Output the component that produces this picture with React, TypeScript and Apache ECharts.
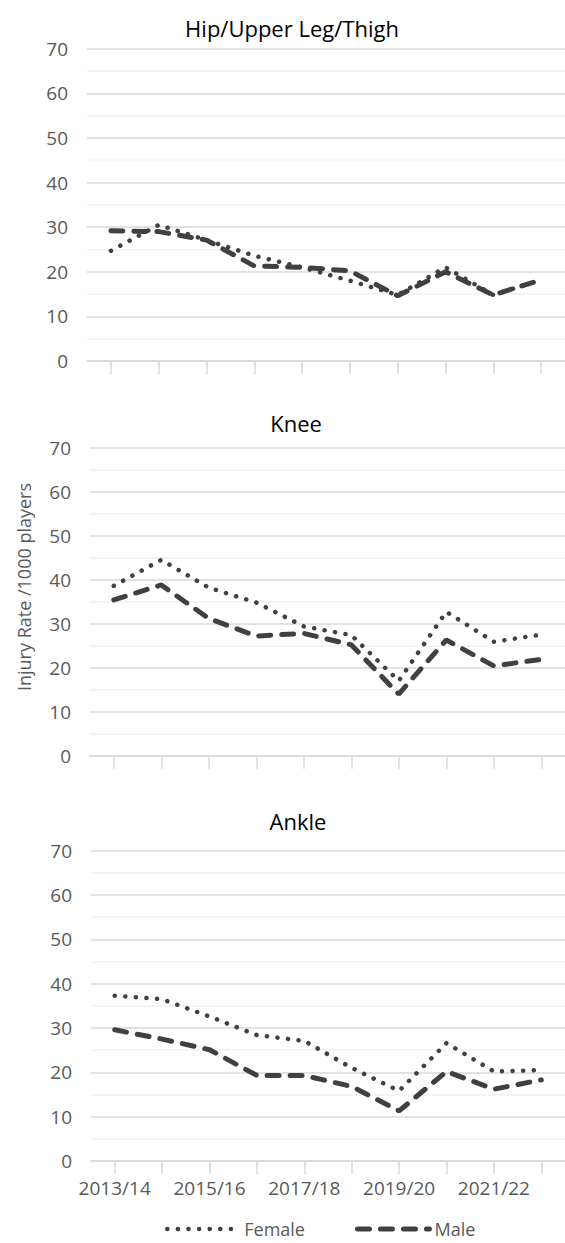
import React, { useEffect, useRef } from "react";
import * as echarts from "echarts";

const categories = ["2013/14", "2014/15", "2015/16", "2016/17", "2017/18", "2018/19", "2019/20", "2020/21", "2021/22", "2022/23"];
const panelTitles = ["Hip/Upper Leg/Thigh", "Knee", "Ankle"];
const seriesNames = ["Female", "Male"];

const hipFemale = [24.7, 30.5, 27.1, 23.6, 21.0, 18.0, 14.8, 21.0, 14.8, 18.2];
const hipMale = [29.2, 29.0, 27.1, 21.3, 21.0, 20.2, 14.6, 20.0, 14.8, 18.2];
const kneeFemale = [38.6, 44.5, 38.2, 34.8, 29.4, 27.4, 17.0, 32.7, 25.9, 27.5];
const kneeMale = [35.4, 38.8, 31.2, 27.2, 27.8, 25.2, 14.0, 26.3, 20.4, 21.9];
const ankleFemale = [37.3, 36.5, 32.6, 28.4, 27.1, 21.0, 15.8, 26.6, 20.2, 20.5];
const ankleMale = [29.6, 27.5, 25.1, 19.3, 19.3, 16.8, 11.3, 20.2, 16.2, 18.3];

const yMin = 0;
const yMax = 70;
const yInterval = 10;
const yAxisTitle = "Injury Rate /1000 players";

const FONT = "'Open Sans', sans-serif";
const LINE_COLOR = "#404040";
const FEMALE_STYLE = { color: LINE_COLOR, width: 4.5, type: [0.1, 10.5], cap: "round" };
const MALE_STYLE = { color: LINE_COLOR, width: 5, type: [12, 11], cap: "round" };

export default function App() {
  const ref = useRef<HTMLDivElement>(null);

  useEffect(() => {
    if (!ref.current) return;
    const chart = echarts.init(ref.current, null, { renderer: "svg" });

    const grids = [
      { left: 87, right: 0, top: 48.7, height: 312.3 },
      { left: 90, right: 0, top: 447.7, height: 308 },
      { left: 91, right: -2, top: 850.7, height: 310.3 },
    ];
    const titleCenters = [
      { x: 292, y: 28 },
      { x: 296, y: 423 },
      { x: 298, y: 821 },
    ];
    const data = [
      [hipFemale, hipMale],
      [kneeFemale, kneeMale],
      [ankleFemale, ankleMale],
    ];

    const xAxes = grids.map((_, i) => ({
      type: "category",
      gridIndex: i,
      data: categories,
      boundaryGap: true,
      axisLine: { show: true, lineStyle: { color: "#d9d9d9", width: 1.5 } },
      axisTick: { show: true, alignWithLabel: true, interval: 0, length: 13, lineStyle: { color: "#d9d9d9", width: 1.5 } },
      axisLabel: {
        show: i === 2,
        interval: 1,
        margin: 17,
        color: "#595959",
        fontSize: 19,
        fontFamily: FONT,
      },
      splitLine: { show: false },
    }));

    const yAxes = grids.map((_, i) => ({
      type: "value",
      gridIndex: i,
      min: yMin,
      max: yMax,
      interval: yInterval,
      axisLine: { show: false },
      axisTick: { show: false },
      axisLabel: { color: "#595959", fontSize: 19, fontFamily: FONT, margin: 19 },
      splitLine: { show: true, lineStyle: { color: "#d9d9d9", width: 1.5 } },
      minorTick: { show: false, splitNumber: 2 },
      minorSplitLine: { show: true, lineStyle: { color: "#f0f0f0", width: 1.5 } },
    }));

    const series: any[] = [];
    data.forEach((pair, i) => {
      series.push({
        name: seriesNames[0],
        type: "line",
        xAxisIndex: i,
        yAxisIndex: i,
        data: pair[0],
        symbol: "none",
        lineStyle: FEMALE_STYLE,
        itemStyle: { color: LINE_COLOR },
      });
      series.push({
        name: seriesNames[1],
        type: "line",
        xAxisIndex: i,
        yAxisIndex: i,
        data: pair[1],
        symbol: "none",
        lineStyle: MALE_STYLE,
        itemStyle: { color: LINE_COLOR },
      });
    });

    const graphics: any[] = panelTitles.map((t, i) => ({
      type: "text",
      x: titleCenters[i].x,
      y: titleCenters[i].y,
      style: {
        text: t,
        fill: "#000000",
        font: `22px ${FONT}`,
        textAlign: "center",
        textVerticalAlign: "middle",
      },
    }));
    graphics.push({
      type: "text",
      x: 24,
      y: 587,
      rotation: Math.PI / 2,
      style: {
        text: yAxisTitle,
        fill: "#595959",
        font: `18px ${FONT}`,
        textAlign: "center",
        textVerticalAlign: "middle",
      },
    });

    chart.setOption({
      animation: false,
      backgroundColor: "#ffffff",
      grid: grids,
      xAxis: xAxes,
      yAxis: yAxes,
      series,
      graphic: graphics,
      legend: {
        data: [
          { name: seriesNames[0], lineStyle: FEMALE_STYLE, itemStyle: { opacity: 0 } },
          { name: seriesNames[1], lineStyle: MALE_STYLE, itemStyle: { opacity: 0 } },
        ],
        left: 160,
        top: 1215,
        itemWidth: 72,
        itemHeight: 6,
        itemGap: 50,
        itemStyle: { opacity: 0 },
        textStyle: { color: "#595959", fontSize: 18, fontFamily: FONT },
      },
    });

    return () => chart.dispose();
  }, []);

  return (
    <div
      ref={ref}
      style={{ position: "absolute", left: 0, top: 0, width: 565, height: 1243, background: "#fff" }}
    />
  );
}
